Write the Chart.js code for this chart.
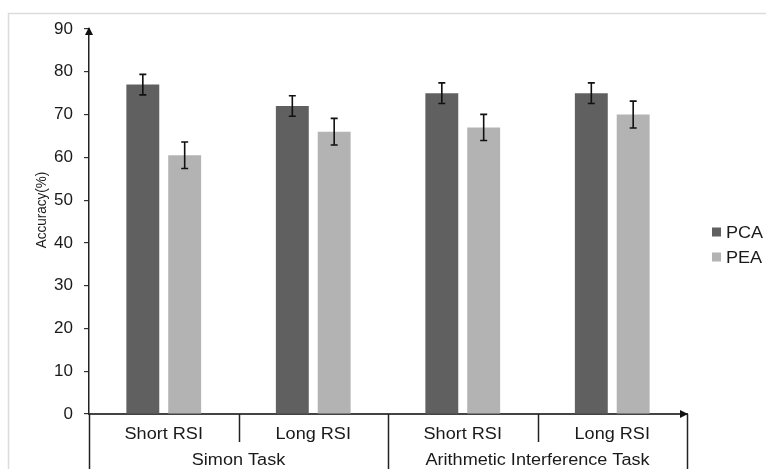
<!DOCTYPE html>
<html>
<head>
  <meta charset="UTF-8">
  <title>Accuracy by task and RSI</title>
  <script src="https://cdn.jsdelivr.net/npm/chart.js"></script>
  <style>
    html, body { margin: 0; padding: 0; background: #fff; }
    #chart { position: absolute; left: 0; top: 0; }
  </style>
</head>
<body>
  <canvas id="chart" width="766" height="469"></canvas>

  <script>
    // values
    const categories = ['Short RSI', 'Long RSI', 'Short RSI', 'Long RSI'];
    const groups = ['Simon Task', 'Arithmetic Interference Task'];
    const pcaValues = [77, 72, 75, 75];
    const pcaErrors = [2.4, 2.4, 2.4, 2.4];
    const peaValues = [60.5, 66, 67, 70];
    const peaErrors = [3.1, 3.1, 3.05, 3.15];
    const yTicks = [0, 10, 20, 30, 40, 50, 60, 70, 80, 90];

    const FONT = '"Liberation Sans", Arial, sans-serif';
    const STRETCH = 1.13; // the original picture is a bit wider than tall

    function wideText(ctx, text, x, y, align) {
      ctx.save();
      ctx.translate(x, y);
      ctx.scale(STRETCH, 1);
      ctx.textAlign = align;
      ctx.textBaseline = 'alphabetic';
      ctx.fillText(text, 0, 0);
      ctx.restore();
    }

    const extras = {
      id: 'extras',
      beforeDraw(chart) {
        const ctx = chart.ctx;
        ctx.save();
        ctx.strokeStyle = '#dcdcdc';
        ctx.lineWidth = 1.5;
        ctx.strokeRect(8.5, 13.5, 800, 500);
        ctx.restore();
      },
      afterDatasetsDraw(chart) {
        const ctx = chart.ctx;
        const y = chart.scales.y;
        const errs = [pcaErrors, peaErrors];
        ctx.save();
        ctx.strokeStyle = '#111';
        ctx.lineWidth = 1.6;
        chart.data.datasets.forEach((ds, i) => {
          chart.getDatasetMeta(i).data.forEach((bar, j) => {
            const top = y.getPixelForValue(ds.data[j] + errs[i][j]);
            const bot = y.getPixelForValue(ds.data[j] - errs[i][j]);
            ctx.beginPath();
            ctx.moveTo(bar.x, top); ctx.lineTo(bar.x, bot);
            ctx.moveTo(bar.x - 3.5, top); ctx.lineTo(bar.x + 3.5, top);
            ctx.moveTo(bar.x - 3.5, bot); ctx.lineTo(bar.x + 3.5, bot);
            ctx.stroke();
          });
        });
        ctx.restore();
      },
      afterDraw(chart) {
        const ctx = chart.ctx;
        const x = chart.scales.x;
        const a = chart.chartArea;
        ctx.save();
        ctx.fillStyle = '#111';
        ctx.strokeStyle = '#222';

        // arrow heads
        ctx.beginPath();
        ctx.moveTo(a.left, a.top - 2);
        ctx.lineTo(a.left - 4, a.top + 6);
        ctx.lineTo(a.left + 4, a.top + 6);
        ctx.closePath();
        ctx.fill();
        ctx.beginPath();
        ctx.moveTo(a.right + 1, a.bottom);
        ctx.lineTo(a.right - 7, a.bottom - 4);
        ctx.lineTo(a.right - 7, a.bottom + 4);
        ctx.closePath();
        ctx.fill();

        // category separators
        const half = (x.getPixelForValue(1) - x.getPixelForValue(0)) / 2;
        ctx.lineWidth = 1.5;
        ctx.beginPath();
        [1, 3].forEach(i => {
          const px = Math.round(x.getPixelForValue(i) - half) + 0.5;
          ctx.moveTo(px, a.bottom); ctx.lineTo(px, a.bottom + 28);
        });
        [0, 2, 4].forEach(i => {
          const px = Math.round(x.getPixelForValue(i) - half) + 0.5;
          ctx.moveTo(px, a.bottom); ctx.lineTo(px, chart.height);
        });
        ctx.stroke();

        // category and group labels
        ctx.font = '16px ' + FONT;
        ctx.fillStyle = '#1a1a1a';
        categories.forEach((c, i) => wideText(ctx, c, x.getPixelForValue(i), a.bottom + 25, 'center'));
        groups.forEach((g, i) => {
          const cx = (x.getPixelForValue(2 * i) + x.getPixelForValue(2 * i + 1)) / 2;
          wideText(ctx, g, cx, a.bottom + 51, 'center');
        });

        // legend
        chart.data.datasets.forEach((ds, i) => {
          const ly = 232 + i * 25;
          ctx.fillStyle = ds.backgroundColor;
          ctx.fillRect(712, ly - 4.5, 9, 9);
          ctx.fillStyle = '#1a1a1a';
          wideText(ctx, ds.label, 726, ly + 6, 'left');
        });

        // y axis title
        ctx.save();
        ctx.translate(42, 210);
        ctx.rotate(-Math.PI / 2);
        ctx.scale(1, STRETCH);
        ctx.font = '13.5px ' + FONT;
        ctx.textAlign = 'center';
        ctx.textBaseline = 'middle';
        ctx.fillText('Accuracy(%)', 0, 0);
        ctx.restore();

        ctx.restore();
      }
    };

    new Chart(document.getElementById('chart'), {
      type: 'bar',
      data: {
        labels: categories,
        datasets: [
          { label: 'PCA', data: pcaValues, backgroundColor: '#606060' },
          { label: 'PEA', data: peaValues, backgroundColor: '#b3b3b3' }
        ]
      },
      options: {
        responsive: false,
        animation: false,
        categoryPercentage: 0.56,
        barPercentage: 0.786,
        layout: { padding: { left: 0, top: 29, right: 79, bottom: 0 } },
        plugins: { legend: { display: false }, tooltip: { enabled: false } },
        scales: {
          x: {
            grid: { display: false },
            border: { display: true, color: '#444', width: 2 },
            ticks: { display: false },
            afterFit: axis => { axis.height = 55; }
          },
          y: {
            min: 0,
            max: 90,
            afterBuildTicks: axis => { axis.ticks = yTicks.map(v => ({ value: v })); },
            ticks: {
              padding: 11,
              color: '#1a1a1a',
              font: { family: FONT, size: 17 }
            },
            grid: { drawOnChartArea: false, drawTicks: true, tickLength: 5, color: '#333', lineWidth: 1.2 },
            border: { display: true, color: '#222', width: 1.5 },
            afterFit: axis => { axis.width = 89; }
          }
        }
      },
      plugins: [extras]
    });
  </script>
</body>
</html>
